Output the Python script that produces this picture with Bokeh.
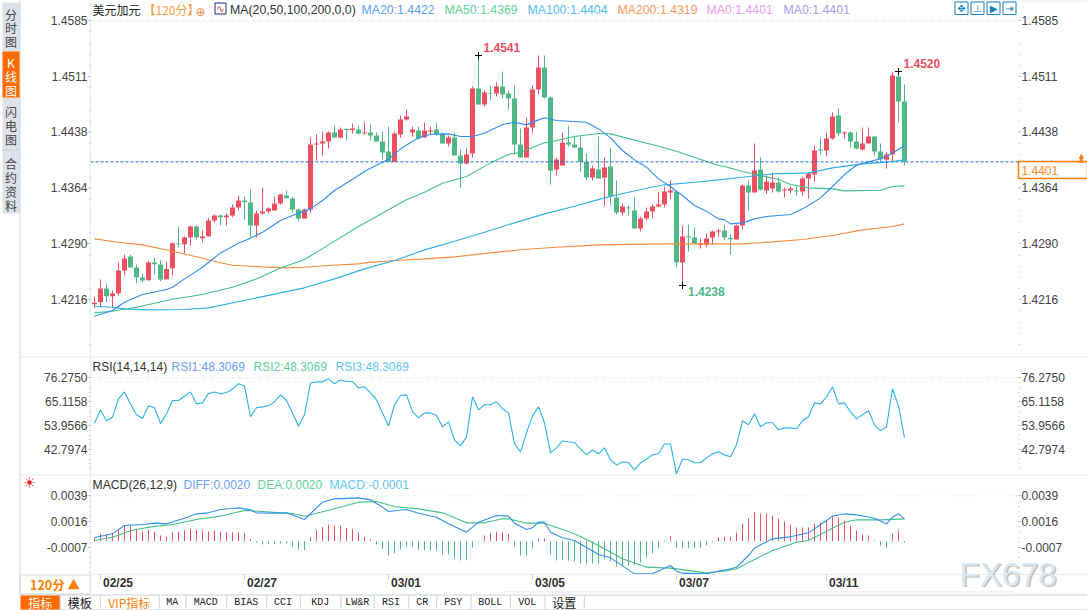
from bokeh.plotting import figure
from bokeh.models import BoxAnnotation, Label, FixedTicker, ColumnDataSource, LinearAxis, Range1d
from bokeh.embed import file_html
from bokeh.resources import INLINE

# ---------- candles ----------
OPEN = [1.42132,1.42158,1.42339,1.42238,1.42277,1.42576,1.42761,1.42616,1.42484,1.42449,
1.42682,1.42655,1.42462,1.42607,1.42932,1.42924,1.43016,1.43157,1.43003,1.43029,
1.43236,1.43302,1.43280,1.43302,1.43407,1.43500,1.43473,1.43170,1.43328,1.43355,
1.43368,1.43460,1.43566,1.43526,1.43381,1.43262,1.43381,1.44239,1.44252,1.44278,
1.44397,1.44331,1.44445,1.44432,1.44437,1.44384,1.44397,1.44357,1.44278,1.44146,
1.44010,1.44371,1.44569,1.44397,1.44423,1.44331,1.44410,1.44437,1.44384,1.44252,
1.44331,1.44094,1.43988,1.44120,1.44978,1.44766,1.44920,1.44912,1.45004,1.44912,
1.44846,1.44239,1.44067,1.44463,1.44964,1.45255,1.44859,1.43909,1.43962,1.44265,
1.44239,1.44199,1.44010,1.43803,1.43909,1.43803,1.43948,1.43539,1.43341,1.43407,
1.43368,1.43130,1.43262,1.43355,1.43421,1.43447,1.43605,1.43619,1.42682,1.43025,
1.43012,1.42915,1.42915,1.43012,1.43091,1.43104,1.43007,1.42985,1.43170,1.43698,
1.43605,1.43909,1.43632,1.43658,1.43737,1.43632,1.43632,1.43632,1.43619,1.43790,
1.43843,1.44173,1.44160,1.44318,1.44621,1.44384,1.44397,1.44278,1.44173,1.44252,
1.44344,1.44146,1.44041,1.44107,1.45136,1.44806]
CLOSE = [1.42150,1.42339,1.42238,1.42273,1.42576,1.42735,1.42616,1.42488,1.42444,1.42682,
1.42660,1.42458,1.42598,1.42937,1.42924,1.43012,1.43157,1.43016,1.43025,1.43236,
1.43302,1.43280,1.43302,1.43407,1.43500,1.43478,1.43170,1.43328,1.43355,1.43394,
1.43460,1.43579,1.43531,1.43381,1.43262,1.43381,1.44239,1.44252,1.44278,1.44397,
1.44331,1.44437,1.44432,1.44450,1.44384,1.44397,1.44357,1.44278,1.44133,1.44010,
1.44384,1.44569,1.44608,1.44437,1.44318,1.44423,1.44423,1.44371,1.44252,1.44331,
1.44094,1.43988,1.44107,1.44978,1.44766,1.44925,1.44912,1.45004,1.44898,1.44846,
1.44239,1.44067,1.44463,1.44964,1.45255,1.44859,1.43896,1.44041,1.44261,1.44239,
1.44199,1.44010,1.43803,1.43922,1.43790,1.43935,1.43557,1.43341,1.43421,1.43399,
1.43130,1.43262,1.43355,1.43421,1.43447,1.43619,1.43632,1.42682,1.43025,1.43012,
1.42932,1.42932,1.42998,1.43091,1.43104,1.43016,1.42990,1.43170,1.43698,1.43605,
1.43896,1.43641,1.43751,1.43737,1.43619,1.43645,1.43658,1.43619,1.43790,1.43856,
1.44160,1.44160,1.44318,1.44608,1.44384,1.44397,1.44278,1.44186,1.44252,1.44344,
1.44146,1.44041,1.44107,1.45149,1.44806,1.44010]
HIGH = [1.42233,1.42458,1.42405,1.42312,1.42682,1.42787,1.42787,1.42655,1.42537,1.42704,
1.42748,1.42713,1.42695,1.42946,1.43157,1.43025,1.43170,1.43170,1.43104,1.43267,
1.43315,1.43315,1.43328,1.43447,1.43566,1.43553,1.43645,1.43368,1.43671,1.43412,
1.43553,1.43588,1.43632,1.43553,1.43394,1.43394,1.44331,1.44371,1.44410,1.44410,
1.44489,1.44463,1.44450,1.44516,1.44489,1.44529,1.44503,1.44397,1.44410,1.44476,
1.44410,1.44621,1.44700,1.44476,1.44476,1.44529,1.44476,1.44529,1.44397,1.44357,
1.44397,1.44173,1.44186,1.45004,1.45413,1.44951,1.45017,1.45057,1.45202,1.44951,
1.45017,1.44450,1.44595,1.45017,1.45413,1.45413,1.44872,1.44067,1.44397,1.44489,
1.44357,1.44344,1.44120,1.43962,1.44344,1.44067,1.44199,1.43764,1.43460,1.43434,
1.43539,1.43289,1.43407,1.43447,1.43619,1.43685,1.43764,1.43632,1.43170,1.43183,
1.43144,1.42998,1.43064,1.43104,1.43130,1.43183,1.43051,1.43183,1.43711,1.43764,
1.44252,1.44067,1.43830,1.43869,1.43803,1.43671,1.43685,1.43685,1.43816,1.43869,
1.44225,1.44331,1.44397,1.44661,1.44714,1.44410,1.44410,1.44410,1.44463,1.44463,
1.44357,1.44252,1.44133,1.45189,1.45202,1.45030]
LOW = [1.42079,1.42101,1.42158,1.42079,1.42246,1.42510,1.42616,1.42409,1.42418,1.42444,
1.42523,1.42436,1.42458,1.42510,1.42884,1.42801,1.42906,1.42985,1.42950,1.43025,
1.43210,1.43170,1.43170,1.43280,1.43368,1.43249,1.43012,1.43012,1.43315,1.43328,
1.43368,1.43447,1.43526,1.43341,1.43223,1.43262,1.43341,1.44028,1.44094,1.44186,
1.44331,1.44318,1.44291,1.44384,1.44371,1.44371,1.44291,1.44278,1.44041,1.44006,
1.44006,1.44331,1.44555,1.44344,1.44305,1.44331,1.44371,1.44357,1.44252,1.44212,
1.44094,1.43671,1.43975,1.44067,1.44766,1.44740,1.44819,1.44872,1.44846,1.44700,
1.44107,1.44067,1.44067,1.44397,1.44898,1.44846,1.43711,1.43830,1.43962,1.44212,
1.44199,1.43882,1.43764,1.43764,1.43790,1.43421,1.43434,1.43315,1.43302,1.43302,
1.43130,1.43091,1.43236,1.43262,1.43407,1.43407,1.43513,1.42620,1.42380,1.42827,
1.42932,1.42867,1.42880,1.42919,1.43025,1.42972,1.42787,1.42985,1.43117,1.43368,
1.43605,1.43632,1.43588,1.43605,1.43605,1.43539,1.43592,1.43566,1.43566,1.43526,
1.43751,1.44107,1.44080,1.44305,1.44357,1.44318,1.44199,1.44173,1.44160,1.44252,
1.44094,1.44014,1.43922,1.44014,1.44529,1.43962]

# ---------- moving averages (index of the bar, value) ----------
MA20_I = [0,3,5,8,12,13,15,18,21,24,26,28,31,33,36,38,40,44,45,49,51,54,56,59,61,63,65,68,70,72,74,75,77,82,84,86,88,90,92,94,96,97,98,99,100,102,104,105,106,108,110,112,116,118,119,121,123,125,127,129,131,133,135]
MA20 = [1.41974,1.42049,1.42158,1.42260,1.42326,1.42356,1.42466,1.42620,1.42809,1.42937,1.43003,1.43082,1.43236,1.43302,1.43390,1.43500,1.43632,1.43830,1.43887,1.44045,1.44182,1.44327,1.44375,1.44379,1.44344,1.44344,1.44388,1.44503,1.44533,1.44498,1.44564,1.44591,1.44555,1.44533,1.44445,1.44327,1.44160,1.44036,1.43940,1.43786,1.43685,1.43619,1.43566,1.43500,1.43434,1.43359,1.43258,1.43245,1.43192,1.43205,1.43258,1.43289,1.43315,1.43390,1.43434,1.43535,1.43685,1.43843,1.43966,1.44010,1.44050,1.44124,1.44225]
MA50_I = [0,3,7,13,18,23,27,31,35,39,44,52,55,58,62,66,69,71,75,78,80,84,86,94,97,104,105,108,111,114,116,119,123,125,131,133,135]
MA50 = [1.42018,1.42040,1.42092,1.42198,1.42260,1.42356,1.42466,1.42611,1.42721,1.42915,1.43157,1.43509,1.43610,1.43729,1.43816,1.43997,1.44107,1.44138,1.44261,1.44309,1.44344,1.44384,1.44379,1.44217,1.44151,1.43962,1.43948,1.43882,1.43830,1.43777,1.43711,1.43667,1.43654,1.43627,1.43636,1.43685,1.43693]
MA100_I = [0,3,5,9,15,19,27,35,40,44,45,50,55,60,65,70,75,80,85,89,92,95,100,104,108,113,119,123,128,132,135]
MA100 = [1.42101,1.42092,1.42070,1.42057,1.42062,1.42084,1.42216,1.42348,1.42466,1.42572,1.42598,1.42708,1.42849,1.42963,1.43082,1.43205,1.43324,1.43425,1.43535,1.43610,1.43663,1.43707,1.43742,1.43773,1.43808,1.43852,1.43865,1.43931,1.43984,1.44006,1.44036]
MA200_I = [0,4,8,13,18,20,23,28,32,35,39,44,45,50,55,60,66,72,77,84,95,104,108,113,118,123,128,133,135]
MA200 = [1.42994,1.42950,1.42915,1.42831,1.42739,1.42695,1.42647,1.42625,1.42611,1.42620,1.42642,1.42664,1.42677,1.42708,1.42730,1.42757,1.42809,1.42858,1.42884,1.42915,1.42928,1.42928,1.42928,1.42954,1.42985,1.43038,1.43113,1.43157,1.43192]

# ---------- RSI ----------
RSI = [55.1,61.3,56.2,57.9,66.5,69.7,64.1,59.0,57.3,63.2,62.3,54.9,59.5,65.7,65.7,67.7,69.7,64.1,64.6,69.0,
69.7,68.8,69.4,71.1,73.5,72.5,58.1,62.3,62.7,63.2,65.1,68.3,65.7,59.9,53.7,59.0,73.9,74.4,74.4,75.8,
73.5,75.3,74.6,74.6,71.6,72.1,69.3,66.0,59.9,53.7,63.7,68.0,68.3,60.5,57.6,59.9,59.9,58.7,53.4,55.7,
47.3,44.5,48.7,67.4,61.3,63.7,63.7,65.1,61.8,59.9,45.4,41.7,50.6,58.5,62.7,55.3,41.2,43.6,46.8,46.4,
46.1,43.1,40.3,42.6,40.8,43.6,38.0,35.6,37.0,36.7,33.3,36.6,38.4,40.3,40.8,45.4,45.4,31.4,38.4,38.0,
36.6,36.6,38.9,40.8,41.7,40.3,39.4,45.0,56.2,54.3,59.5,53.4,55.3,55.3,52.0,52.9,52.9,52.5,56.2,58.1,
64.6,64.1,67.4,72.1,64.1,64.6,60.4,57.1,59.0,60.9,54.3,51.5,53.4,71.1,63.2,48.3]

# ---------- MACD ----------
HIST = [33,66,66,75,111,141,141,111,87,99,87,51,39,81,87,99,111,102,96,87,96,87,81,81,78,72,18,-15,-30,-27,
-27,-21,-21,-48,-78,-81,36,96,126,150,141,141,120,111,81,42,15,-30,-72,-129,-108,-72,-48,-54,-81,-81,-84,-84,-120,-120,
-156,-174,-174,-57,-3,51,72,87,78,63,-48,-129,-129,-66,24,24,-120,-174,-174,-174,-183,-201,-210,-201,-201,-159,-183,-228,-219,-219,
-213,-192,-147,-111,-63,-9,45,-63,-63,-63,-63,-63,-39,-9,36,42,42,78,159,204,258,249,249,231,204,177,150,123,123,123,
159,168,186,231,213,186,141,96,60,51,6,-39,-57,69,96,-12]
HIST = [v / 1e5 for v in HIST]
DIFF_I = [0,3,5,8,10,12,15,17,19,21,23,24,26,27,30,32,35,37,38,40,44,46,48,49,52,54,57,59,62,64,67,69,70,72,73,74,75,76,78,80,84,86,90,93,96,97,98,102,104,105,107,109,110,111,113,116,119,122,123,125,127,130,132,133,134,135]
DIFF = [33,66,141,150,162,156,207,246,255,285,294,300,282,255,252,255,195,300,351,381,390,372,306,267,285,252,216,156,81,171,231,225,162,105,120,171,171,81,30,6,-120,-150,-294,-294,-219,-270,-288,-294,-270,-261,-234,-129,-63,-33,21,39,75,186,225,246,237,207,156,216,246,201]
DIFF = [v / 1e5 for v in DIFF]
DEA_I = [0,3,6,9,13,17,21,23,25,28,31,33,35,37,39,42,44,47,50,54,58,62,65,68,69,72,75,80,84,88,92,96,102,104,105,107,110,113,117,119,122,125,127,131,135]
DEA = [6,36,93,126,150,195,225,252,276,267,255,249,225,252,279,321,351,357,312,291,255,165,165,201,201,162,162,66,-39,-159,-234,-243,-285,-273,-270,-249,-165,-84,-9,6,90,171,192,192,201]
DEA = [v / 1e5 for v in DEA]

# ---------- axes ----------
PRICE_TICKS = [1.45872, 1.45141, 1.44407, 1.43668, 1.42929, 1.42190]
PRICE_LABELS = ["1.4585", "1.4511", "1.4438", "1.4364", "1.4290", "1.4216"]
RSI_TICKS = [76.2750, 65.1158, 53.9566, 42.7974]
RSI_LABELS = ["76.2750", "65.1158", "53.9566", "42.7974"]
MACD_TICKS = [0.00407, 0.00176, -0.00055]
MACD_LABELS = ["0.0039", "0.0016", "-0.0007"]
DATE_BARS = [1, 25, 49, 73, 97, 122]
DATE_LABELS = ["02/25", "02/27", "03/01", "03/05", "03/07", "03/11"]

RED, GREEN = "#ef4f60", "#50b886"
C20, C50, C100, C200 = "#2f8ff0", "#43c086", "#2fb2e8", "#f68d3e"
SANS = "Liberation Sans"
CJK = "Noto Sans CJK SC"
MONO = "Liberation Mono"
LINE = "#e6ebef"
W, H = 1087, 610
BAR_PX, BAR0_PX = 6.0, 94.0
PX_L, PX_R = 90, 1018
to_bar = lambda px: (px - BAR0_PX) / BAR_PX
FL, FR = to_bar(PX_L), to_bar(PX_R)

p = figure(width=W, height=H, output_backend="svg", toolbar_location=None,
           x_range=Range1d(to_bar(0), to_bar(W)), y_range=Range1d(1.38091, 1.46139),
           x_axis_location=None, y_axis_location=None,
           min_border_left=0, min_border_right=0, min_border_top=0, min_border_bottom=0)
p.extra_y_ranges = {"rsi": Range1d(-32.40, 252.53), "macd": Range1d(-0.00624, 0.04866)}
p.grid.visible = False
p.outline_line_color = None
p.border_fill_color = "white"


def T(x, y, text, color="#333333", size=12, font=SANS, style="normal", align="left",
      base="middle", x_units="canvas", **kw):
    p.add_layout(Label(x=x, y=y, x_units=x_units, y_units="canvas", text=text, text_color=color,
                       text_font_size=f"{size}px", text_font=font, text_font_style=style,
                       text_align=align, text_baseline=base, **kw))


def B(l, t, r, b, fill=None, line=None, lw=1):
    p.add_layout(BoxAnnotation(left=l, right=r, top=t, bottom=b, left_units="canvas",
                               right_units="canvas", top_units="canvas", bottom_units="canvas",
                               fill_color=fill, fill_alpha=1 if fill else 0,
                               line_color=line, line_width=lw, line_alpha=1 if line else 0))


def axes(ticks, labels, minor, bounds, rng):
    over = dict(zip(ticks, labels))
    kw = {"y_range_name": rng} if rng else {}
    for side, loc in (("left", FL), ("right", FR)):
        ax = LinearAxis(ticker=FixedTicker(ticks=ticks, minor_ticks=minor), major_label_overrides=over,
                        major_label_text_font=SANS, major_label_text_font_size="12px",
                        major_label_text_color="#444444", major_tick_in=0, major_tick_out=3,
                        minor_tick_in=0, minor_tick_out=1, major_tick_line_color="#c8ced4",
                        minor_tick_line_color="#b8bec4", major_label_standoff=0,
                        axis_line_color=LINE if side == "left" else None,
                        fixed_location=loc, bounds=bounds, **kw)
        p.add_layout(ax, side)


def dashed(v, rng=None, color="#e8eaec", dash="4 3"):
    kw = {"y_range_name": rng} if rng else {}
    p.segment([FL], [v], [FR], [v], line_color=color, line_dash=dash, line_width=1, **kw)


# ---------- main panel ----------
step = (PRICE_TICKS[0] - PRICE_TICKS[-1]) / 25
axes(PRICE_TICKS, PRICE_LABELS, [PRICE_TICKS[0] - k * step for k in range(0, 30)], (1.41442, 1.46139), None)
idx = list(range(len(OPEN)))
colors = [RED if c >= o else GREEN for o, c in zip(OPEN, CLOSE)]
src = ColumnDataSource(dict(x=idx, o=OPEN, c=CLOSE, h=HIGH, l=LOW, col=colors))
dashed(PRICE_TICKS[0])
p.segment("x", "h", "x", "l", source=src, line_color="col", line_width=1)
p.vbar(x="x", width=5 / 6, top="o", bottom="c", source=src, fill_color="col", line_color="col", line_width=0)
for xs, ys, c in ((MA200_I, MA200, C200), (MA100_I, MA100, C100), (MA50_I, MA50, C50), (MA20_I, MA20, C20)):
    p.line(xs, ys, line_color=c, line_width=1.1)
dashed(CLOSE[-1], color="#1a6ed8", dash="3 2")
HIGH_BAR, HIGH2_BAR, LOW_BAR = 64, 134, 98
for b, v in ((HIGH_BAR, HIGH[HIGH_BAR]), (HIGH2_BAR, HIGH[HIGH2_BAR]), (LOW_BAR, LOW[LOW_BAR])):
    p.scatter([b], [v], marker="cross", size=7, line_color="black", line_width=1)
T(HIGH_BAR, 47, "1.4541", RED, 12, style="bold", x_units="data", x_offset=5)
T(HIGH2_BAR, 63, "1.4520", RED, 12, style="bold", x_units="data", x_offset=5)
T(LOW_BAR, 291, "1.4238", GREEN, 12, style="bold", x_units="data", x_offset=5.5)
# header
T(92, 9, "美元加元", "#222222", 12, CJK)
T(143, 9, "【120分】", "#f39a45", 12, CJK)
T(200, 11, "⊕", "#f08a3c", 12, "DejaVu Sans", align="center")
B(214.5, 2.5, 225.5, 13.5, "#ffffff", "#1c2b86")
T(220, 8, "∿", "#d83a3a", 10, "DejaVu Sans", align="center")
T(229.5, 9, "MA(20,50,100,200,0,0)", "#333333", 12.3)
for x, txt, c in ((361, "MA20:1.4422", "#5aa0f7"), (444, "MA50:1.4369", "#62d09a"),
                  (527, "MA100:1.4404", "#4fbdf0"), (617, "MA200:1.4319", "#f89a5a"),
                  (706, "MA0:1.4401", "#e89be6"), (783, "MA0:1.4401", "#a59cf0")):
    T(x, 9, txt, c, 12.3)
# left rail
B(2, 2, 19.5, 213, "#dfe1e9")
B(2, 51, 19.5, 97, "#ff6a00")
B(2, 149, 19.5, 150, "#c9ccd6")
B(19, 0, 20, 594, "#cfd5dd")
for ch, y, c in (("分", 14, "#444"), ("时", 27, "#444"), ("图", 41, "#444"),
                 ("K", 62, "#fff"), ("线", 76, "#fff"), ("图", 90, "#fff"),
                 ("闪", 111, "#444"), ("电", 125, "#444"), ("图", 139, "#444"),
                 ("合", 163, "#444"), ("约", 177, "#444"), ("资", 191, "#444"), ("料", 205, "#444")):
    T(10.5, y, ch, c, 12, CJK, align="center")
# top right buttons
B(954, 0, 1087, 1, "#dfe3e8")
for x0, g in ((954.5, "✥"), (970.5, "⊥"), (986.5, "▶"), (1002.5, "⇥")):
    B(x0, 1.5, x0 + 13, 14, None, "#1b7fc4")
    T(x0 + 6.5, 8, g, "#1b7fc4", 10, "DejaVu Sans", align="center")
# price tag
B(1018, 161, 1087, 178, "#ffffff", "#ff8000", 1.5)
T(1021, 170, "1.4401", "#ff8a1e", 12)
T(1081, 155, "▲", "#ff8000", 7, "DejaVu Sans", align="center")
T(1081, 159, "▲", "#ff8000", 7, "DejaVu Sans", align="center")
B(20, 356, W, 357, LINE)

# ---------- RSI panel ----------
rstep = (RSI_TICKS[0] - RSI_TICKS[-1]) / 15
axes(RSI_TICKS, RSI_LABELS, [RSI_TICKS[0] - k * rstep for k in range(0, 20)], (30.65, 85.77), "rsi")
dashed(RSI_TICKS[0], "rsi")
p.line(idx, RSI, line_color=C100, line_width=1.1, y_range_name="rsi")
T(92, 366, "RSI(14,14,14)", "#333333", 12)
for x, txt, c in ((171, "RSI1:48.3069", "#6aa0f5"), (253, "RSI2:48.3069", "#62d09a"), (335, "RSI3:48.3069", "#5fc5f0")):
    T(x, 366, txt, c, 12)
B(20, 474, W, 475, LINE)

# ---------- MACD panel ----------
mstep = (MACD_TICKS[0] - MACD_TICKS[-1]) / 10
axes(MACD_TICKS, MACD_LABELS, [MACD_TICKS[0] - k * mstep for k in range(0, 16)], (-0.0030, 0.00591), "macd")
dashed(MACD_TICKS[0], "macd")
hcol = [RED if v >= 0 else GREEN for v in HIST]
p.segment(idx, [0] * len(idx), idx, HIST, line_color=hcol, line_width=1, y_range_name="macd")
p.line(DEA_I, DEA, line_color=C50, line_width=1.1, y_range_name="macd")
p.line(DIFF_I, DIFF, line_color=C20, line_width=1.1, y_range_name="macd")
xa = LinearAxis(ticker=FixedTicker(ticks=DATE_BARS), major_label_overrides={b: "" for b in DATE_BARS},
                major_tick_in=0, major_tick_out=6, major_tick_line_color="#c8ced4",
                minor_tick_line_color=None, axis_line_color=LINE, y_range_name="macd",
                fixed_location=-0.00303, bounds=(FL, to_bar(W)))
p.add_layout(xa, "below")
for b, lab in zip(DATE_BARS, DATE_LABELS):
    T(b, 582, lab, "#333333", 12, style="bold", x_units="data", x_offset=2.5)
T(29, 482, "☀", "#e8202a", 15, "DejaVu Sans", align="center")
T(92, 484, "MACD(26,12,9)", "#333333", 12.2)
for x, txt, c in ((183, "DIFF:0.0020", "#6aa0f5"), (257, "DEA:0.0020", "#62d09a"), (329, "MACD:-0.0001", "#5fc5f0")):
    T(x, 484, txt, c, 12)
# interval box
B(20, 574.5, 89.5, 593.5, "#ffffff", "#d5dade")
T(54.5, 584, "120分 ▲", "#ff8000", 12.5, CJK, "bold", align="center")
# tab bar
B(19, 594, W, 595, "#ccd2d8")
B(19, 609, W, 610, "#ccd2d8")
B(20, 595, 59.3, 609, "#ff6a00")
SEP = [59.3, 99.3, 158.3, 185, 225.7, 265.7, 299.3, 340, 373.3, 407.7, 435.7, 470, 509.3, 544, 583.3]
for s in SEP:
    B(s, 595, s + 1, 609, "#ccd2d8")
B(500, 591, 1013, 592, "#e3e8ec")
TABS = [("指标", "#ffffff", CJK, 12), ("模板", "#222222", CJK, 12), ("VIP指标", "#ff8000", CJK, 12), ("MA", "#222222", MONO, 10),
        ("MACD", "#222222", MONO, 10), ("BIAS", "#222222", MONO, 10), ("CCI", "#222222", MONO, 10), ("KDJ", "#222222", MONO, 10),
        ("LW&R", "#222222", MONO, 10), ("RSI", "#222222", MONO, 10), ("CR", "#222222", MONO, 10), ("PSY", "#222222", MONO, 10),
        ("BOLL", "#222222", MONO, 10), ("VOL", "#222222", MONO, 10), ("设置", "#222222", CJK, 12)]
edges = [20] + SEP
for (txt, c, f, s), a, b in zip(TABS, edges[:-1], edges[1:]):
    T((a + b) / 2, 602, txt, c, s, f, align="center")
# watermark
T(960.5, 575, "FX678", "#c9bdb2", 33, SANS)
T(959, 574, "FX678", "#d9e6f3", 33, SANS)

open("out.html", "w").write(file_html(p, INLINE))
